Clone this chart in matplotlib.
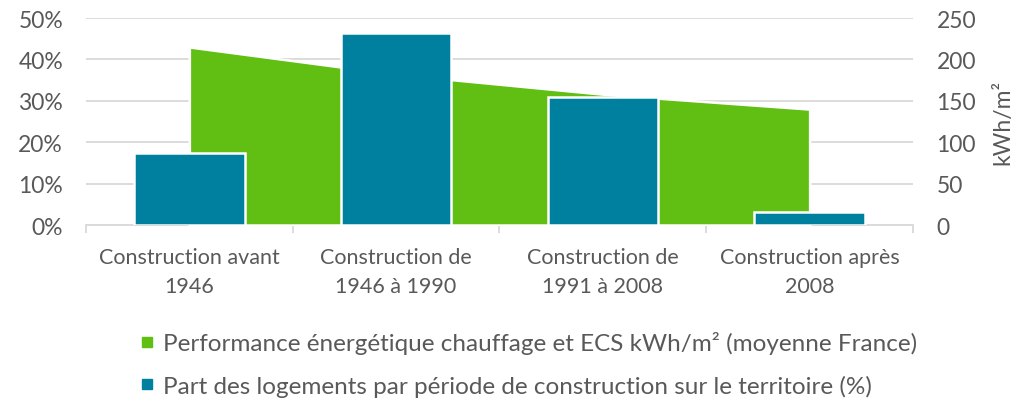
import matplotlib.pyplot as plt
from matplotlib.lines import Line2D
import numpy as np

plt.rcParams['font.family'] = ['Lato', 'DejaVu Sans']

categories = ['Construction avant\n1946', 'Construction de\n1946 à 1990',
              'Construction de\n1991 à 2008', 'Construction après\n2008']
part_logements = [17.4, 46.4, 31.0, 3.1]       # %
performance = [215, 182, 158, 140]             # kWh/m²

green = '#60BF12'
blue = '#00809F'
grid_c = '#D9D9D9'
text_c = '#595959'

fig = plt.figure(figsize=(10.25, 4.02), dpi=100)
ax = fig.add_axes([0.0839, 0.4378, 0.8068, 0.5149])
ax2 = ax.twinx()

x = np.arange(len(categories))

# zone verte (axe secondaire) derrière les barres
ax2.fill_between(x, 0, performance, color=green, edgecolor='white', linewidth=1.8, zorder=2)
ax2.set_ylim(0, 250)
ax2.set_yticks(range(0, 251, 50))

ax.set_ylim(0, 50)
ax.set_yticks(range(0, 51, 10))
ax.set_yticklabels([f'{v}%' for v in range(0, 51, 10)])
ax.set_xlim(-0.5, len(categories) - 0.5)
ax.grid(axis='y', color=grid_c, linewidth=1.3)
ax.set_axisbelow(True)

# les barres doivent passer devant la zone : on les dessine sur ax2
ax.set_zorder(0)
ax2.set_zorder(1)
ax2.patch.set_visible(False)
scale = 250 / 50
ax2.bar(x, np.array(part_logements) * scale, width=0.535, color=blue,
        edgecolor='white', linewidth=1.8, zorder=3)

for a in (ax, ax2):
    for s in a.spines.values():
        s.set_visible(False)
ax.spines['bottom'].set_visible(True)
ax.spines['bottom'].set_color(grid_c)
ax.spines['bottom'].set_linewidth(1.3)

ax.set_xticks(np.arange(-0.5, len(categories), 1), minor=True)
ax.set_xticks(x)
ax.set_xticklabels(categories, color=text_c, fontsize=15.5, linespacing=1.55)
ax.tick_params(axis='x', which='major', length=0, pad=16)
ax.tick_params(axis='x', which='minor', length=6, color=grid_c, width=1.3, labelbottom=False)
ax.tick_params(axis='y', length=0, labelsize=16.5, labelcolor=text_c, pad=16.5)
ax2.tick_params(axis='y', length=0, labelsize=16.5, labelcolor=text_c, pad=17)
ax2.set_ylabel('kWh/m²', fontsize=16.5, color=text_c, labelpad=12)

handles = [Line2D([], [], marker='s', linestyle='none', markersize=7.5, color=green),
           Line2D([], [], marker='s', linestyle='none', markersize=7.5, color=blue)]
labels = ['Performance énergétique chauffage et ECS kWh/m² (moyenne France)',
          'Part des logements par période de construction sur le territoire (%)']
fig.legend(handles, labels, loc='center', bbox_to_anchor=(0.515, 0.092), ncol=1,
           frameon=False, fontsize=17.5, labelcolor=text_c, handletextpad=0.3,
           handlelength=0.7, labelspacing=0.85)

fig.savefig('out.png', dpi=100)
